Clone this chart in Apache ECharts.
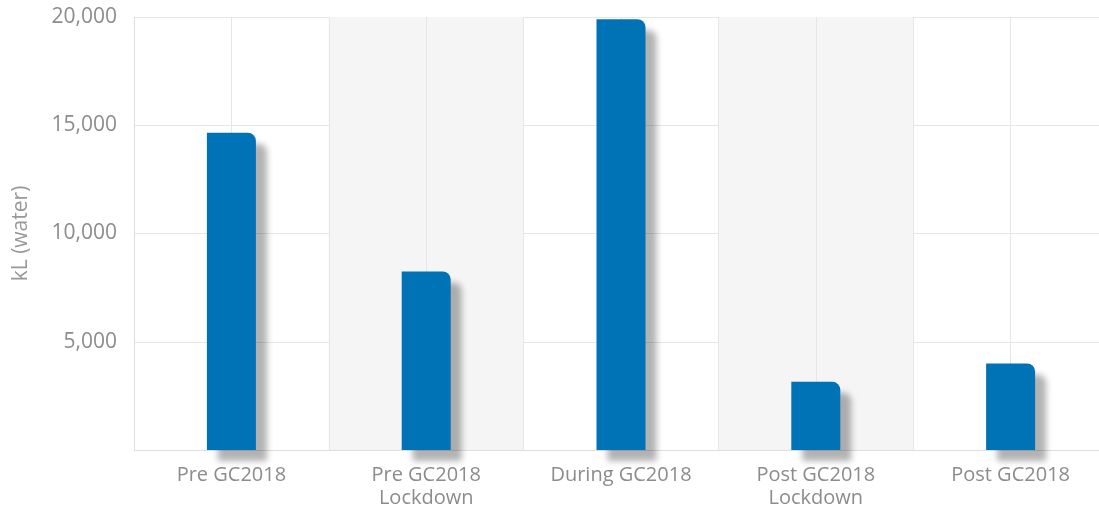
<!DOCTYPE html>
<html>
<head>
<meta charset="utf-8">
<script src="https://cdn.jsdelivr.net/npm/echarts@6/dist/echarts.min.js"></script>
<style>
  html, body { margin: 0; padding: 0; background: #fff; }
  #chart { width: 1099px; height: 512px; }
</style>
</head>
<body>
<div id="chart"></div>
<script>
  // water use per period, kL
  const categories = ['Pre GC2018', 'Pre GC2018\nLockdown', 'During GC2018', 'Post GC2018\nLockdown', 'Post GC2018'];
  const waterKL = [14650, 8250, 19900, 3150, 4000];
  const yTicks = [5000, 10000, 15000, 20000];

  const labelColor = '#8c8c8c';
  const gridColor = '#e6e6e6';

  let myChart = echarts.init(document.getElementById('chart'));
  let option = {
    animation: false,
    // the plot runs a little past the right edge of the picture
    grid: { left: 134, top: 17, bottom: 62, width: 974, outerBoundsMode: 'none', containLabel: false },
    xAxis: [
      {
        type: 'category',
        data: categories,
        axisLine: { lineStyle: { color: '#dedede' } },
        axisTick: { show: false },
        axisLabel: { color: labelColor, fontSize: 20, fontFamily: 'Open Sans', margin: 14, lineHeight: 23 },
        splitLine: { show: true, lineStyle: { color: gridColor } },
        splitArea: { show: true, areaStyle: { color: ['rgba(255,255,255,0)', '#f5f5f5'] } }
      },
      {
        // only draws the gridlines through the category centres
        type: 'value',
        min: 0,
        max: categories.length * 2,
        interval: 1,
        show: true,
        axisLine: { show: false },
        axisTick: { show: false },
        axisLabel: { show: false },
        splitLine: { show: true, lineStyle: { color: gridColor } }
      }
    ],
    yAxis: {
      type: 'value',
      min: 0,
      max: 20000,
      interval: 5000,
      name: 'kL (water)',
      nameLocation: 'middle',
      nameGap: 102,
      nameTextStyle: { color: '#999', fontSize: 21, fontFamily: 'Open Sans' },
      axisLine: { show: true, lineStyle: { color: '#dedede' } },
      axisTick: { show: false },
      axisLabel: {
        color: labelColor, fontSize: 21, fontFamily: 'Open Sans', margin: 17,
        formatter: v => yTicks.includes(v) ? v.toLocaleString('en-US') : ''
      },
      splitLine: { lineStyle: { color: gridColor } }
    },
    series: [
      {
        type: 'bar',
        xAxisIndex: 0,
        data: waterKL,
        barWidth: 49,
        itemStyle: {
          color: '#0072b6',
          borderRadius: [0, 8, 0, 0],
          shadowColor: 'rgba(0,0,0,0.3)',
          shadowBlur: 6,
          shadowOffsetX: 11,
          shadowOffsetY: 11
        }
      }
    ]
  };

  myChart.setOption(option);
  window.onresize = myChart.resize;
</script>
</body>
</html>
